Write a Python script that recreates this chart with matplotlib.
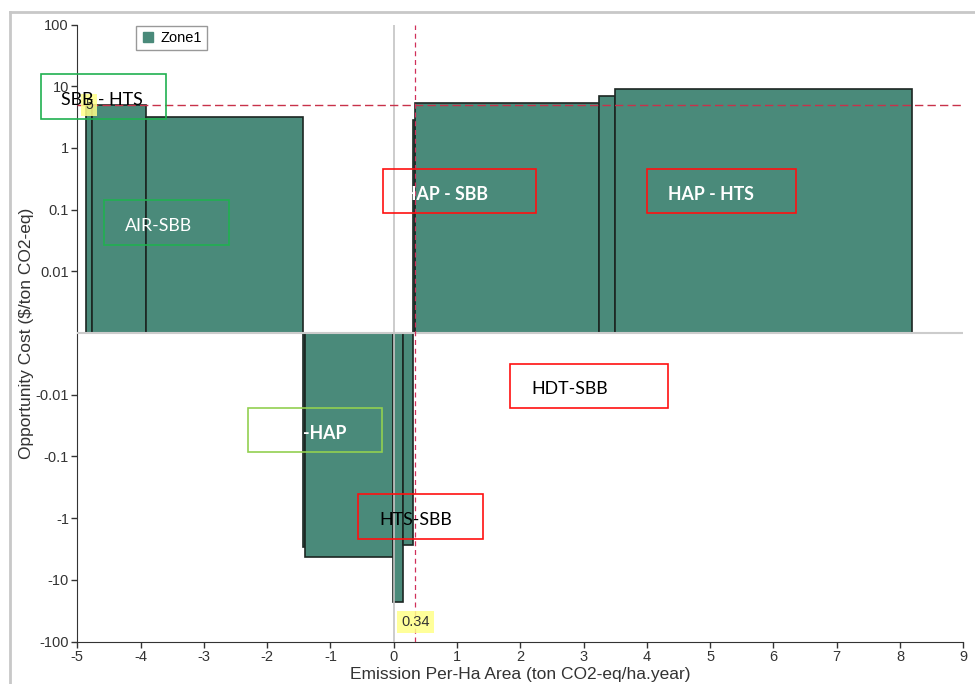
import matplotlib.pyplot as plt
import numpy as np
from matplotlib.patches import Rectangle
from matplotlib.lines import Line2D

# cost curve segments: width = emission reduction, height = opportunity cost
x_start = -4.86
widths = [0.09, 0.86, 2.475, 0.035, 1.385, 0.16, 0.165, 0.03, 2.91, 0.245, 4.69]
costs = [5.0, 5.0, 3.18, -2.92, -4.35, -23.3, -2.74, 2.84, 5.3, 6.9, 8.9]

cost_line = 5
emission_line = 0.34

xticks = list(range(-5, 10))
yticks = [100, 10, 1, 0.1, 0.01, -0.01, -0.1, -1, -10, -100]
ytick_labels = ['100', '10', '1', '0.1', '0.01', '-0.01', '-0.1', '-1', '-10', '-100']
series_name = 'Zone1'

# (text, box left, top, right, bottom in px, box colour, text colour, weight, text left px)
notes = [
    ('SBB - HTS', 41, 74, 166, 119, '#20b050', 'black', 'normal', 61),
    ('AIR-SBB', 104, 200, 229, 245, '#20b050', 'white', 'normal', 125),
    ('-HAP', 248, 408, 382, 452, '#92d050', 'white', 'bold', 303),
    ('HTS-SBB', 358, 494, 483, 539, '#ff1010', 'black', 'normal', 379),
    ('HAP - SBB', 383, 169, 536, 213, '#ff1010', 'white', 'bold', 403),
    ('HAP - HTS', 647, 169, 796, 213, '#ff1010', 'white', 'bold', 668),
    ('HDT-SBB', 510, 364, 668, 408, '#ff1010', 'black', 'normal', 531),
]

teal = '#4a8a7a'
W, H = 975, 684
L, R, T, B = 77.3, 963.3, 24.5, 641.5


def fwd(v):
    v = np.asarray(v, dtype=float)
    a = np.maximum(np.abs(v), 1e-3)
    return np.sign(v) * (np.log10(a) + 3)


def inv(t):
    t = np.asarray(t, dtype=float)
    return np.sign(t) * 10 ** (np.abs(t) - 3)


def ax_xy(px, py):
    return (px - L) / (R - L), (B - py) / (B - T)


plt.rcParams['font.family'] = ['Liberation Sans', 'DejaVu Sans']

fig = plt.figure(figsize=(W / 100, H / 100), dpi=100)
ax = fig.add_axes([L / W, 1 - B / H, (R - L) / W, (B - T) / H])
ax.set_yscale('function', functions=(fwd, inv))

lefts = x_start + np.concatenate([[0], np.cumsum(widths)[:-1]])
ax.bar(lefts, costs, width=widths, align='edge', color=teal,
       edgecolor='#1c2622', linewidth=1.2, zorder=2)

ax.axhline(0, color='#cccccc', lw=1.5, zorder=3)
ax.axvline(0, color='#c4c4c4', lw=1.2, zorder=3)
ax.axhline(cost_line, color='#c8324a', lw=1.0, ls=(0, (6, 3)), zorder=4)
ax.axvline(emission_line, color='#d0305a', lw=0.9, ls=(0, (4, 3)), zorder=4)

ax.set_xlim(-5, 9)
ax.set_ylim(-100, 100)
ax.set_xticks(xticks)
ax.set_xticklabels([str(v) for v in xticks])
ax.set_yticks(yticks)
ax.set_yticklabels(ytick_labels)
ax.yaxis.set_minor_locator(plt.NullLocator())
ax.tick_params(labelsize=10.5, labelcolor='#333333', length=4, width=1, color='#333333', pad=2)
for s in ['top', 'right']:
    ax.spines[s].set_visible(False)
for s in ['left', 'bottom']:
    ax.spines[s].set_color('#333333')

ax.set_xlabel('Emission Per-Ha Area (ton CO2-eq/ha.year)', fontsize=12.5, color='#333333', labelpad=2)
ax.set_ylabel('Opportunity Cost ($/ton CO2-eq)', fontsize=12.5, color='#333333', labelpad=1)

handle = Line2D([], [], marker='s', ls='', color=teal, markersize=6.5)
ax.legend([handle], [series_name], loc='upper left', bbox_to_anchor=ax_xy(136, 26),
          frameon=True, fancybox=False, edgecolor='#808080', fontsize=10.5,
          handletextpad=0.3, borderpad=0.35, handlelength=1.0, borderaxespad=0)

# value tags for the two reference lines
ax.text(-4.81, cost_line, str(cost_line), ha='center', va='center', fontsize=10, color='#333333',
        bbox=dict(boxstyle='square,pad=0.3', fc='#ffff88', ec='none', alpha=0.85), zorder=6)
ax.text(emission_line, ax_xy(0, 622)[1], str(emission_line), transform=ax.get_xaxis_transform(),
        ha='center', va='center', fontsize=10.5, color='#333333',
        bbox=dict(boxstyle='square,pad=0.3', fc='#ffff88', ec='none', alpha=0.85), zorder=6)

for text, x0, y0, x1, y1, ec, tc, wt, tx in notes:
    ax0, ay0 = ax_xy(x0, y1)
    ax1, ay1 = ax_xy(x1, y0)
    ax.add_patch(Rectangle((ax0, ay0), ax1 - ax0, ay1 - ay0, transform=ax.transAxes,
                           fill=False, ec=ec, lw=1.2, clip_on=False, zorder=7))
    ax.text(ax_xy(tx, 0)[0], (ay0 + ay1) / 2 - 0.005, text, transform=ax.transAxes,
            ha='left', va='center', fontsize=12.8, color=tc, fontweight=wt,
            family=['Lato', 'DejaVu Sans'], clip_on=False, zorder=8)

# light frame at the top and left of the figure
fig.add_artist(Line2D([10 / W, 1], [1 - 12 / H, 1 - 12 / H], color='#c8c8c8', lw=2))
fig.add_artist(Line2D([10 / W, 10 / W], [0, 1 - 12 / H], color='#c8c8c8', lw=2))

fig.savefig('out.png', dpi=100)
